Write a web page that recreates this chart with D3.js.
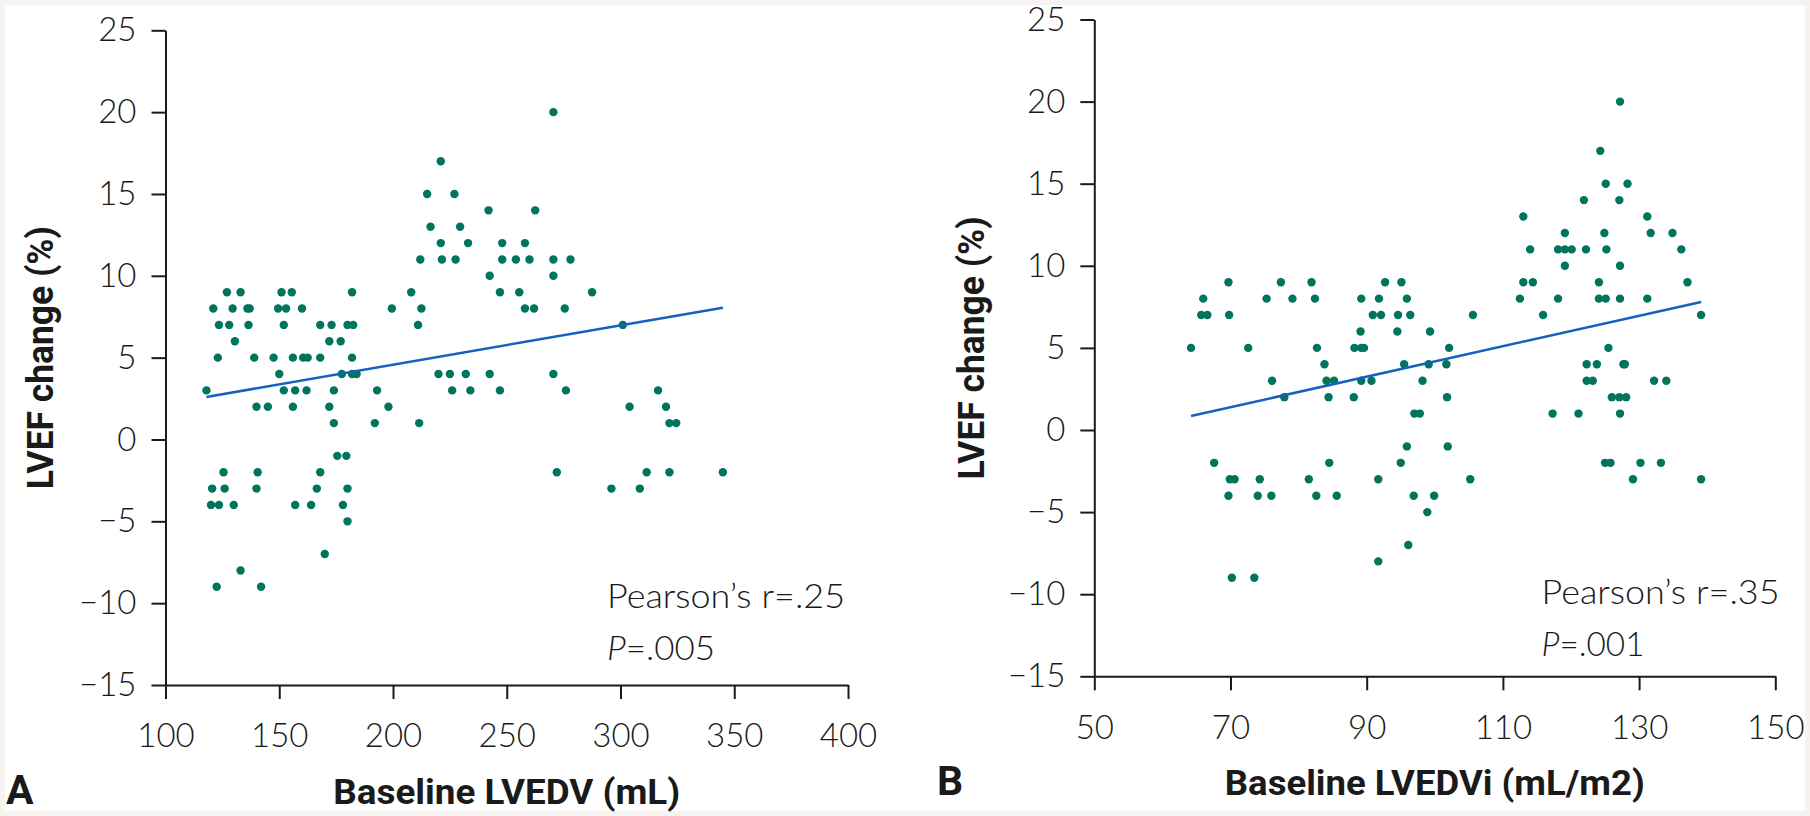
<!DOCTYPE html>
<html><head><meta charset="utf-8">
<script src="https://cdn.jsdelivr.net/npm/d3@7"></script>
<style>
html,body{margin:0;padding:0;background:#f7f3f1;}
svg{display:block;}
.tick text,.note{font-family:Lato,'Open Sans',sans-serif;font-weight:300;fill:#1a1a1a;}
.title{font-family:Roboto,'DejaVu Sans',sans-serif;font-weight:700;fill:#1a1a1a;}
</style></head><body>
<svg id="chart" width="1810" height="816"></svg>
<script>
// ---- Data ----
// Panel A: Baseline LVEDV (mL) vs LVEF change (%)
const aX = [270.5,221,215,227,242,262.5,216.5,229.5,221,233,248,258,
  212,221.5,227.5,248,254,260,270.5,278,242.5,270.5,
  127,133,151,155.5,182,208,247,255.5,287.5,
  121,129.5,136,137,149.5,153,160,199.5,212.5,258,262,275.5,
  123.5,128,136.5,152,168,173,180,182.5,211,301,
  130.5,172,177,
  123,139,147.5,156,160.5,162.5,168,182,
  150,177.5,182,184,220,225,232,242.5,270.5,
  118,152,157,162,174,193,226,234,247,276,316.5,
  140,145,156,172,198,304,320,
  174,192,211.5,321.5,324.5,
  175.5,179.5,
  125.5,140.5,168,272,311.5,321.5,345,
  120.5,126,140,166.5,180,296,308.5,
  120,123.5,130,157,164,178,
  180,170,133,122.5,142];
const aY = [20,17,15,15,14,14,13,13,12,12,12,12,
  11,11,11,11,11,11,11,11,10,10,
  9,9,9,9,9,9,9,9,9,
  8,8,8,8,8,8,8,8,8,8,8,8,
  7,7,7,7,7,7,7,7,7,7,
  6,6,6,
  5,5,5,5,5,5,5,5,
  4,4,4,4,4,4,4,4,4,
  3,3,3,3,3,3,3,3,3,3,3,
  2,2,2,2,2,2,2,
  1,1,1,1,1,
  -1,-1,
  -2,-2,-2,-2,-2,-2,-2,
  -3,-3,-3,-3,-3,-3,-3,
  -4,-4,-4,-4,-4,-4,
  -5,-7,-8,-9,-9];
const fitAX = [118, 345];
const fitAY = [2.6, 8.05];

// Panel B: Baseline LVEDVi (mL/m2) vs LVEF change (%)
const bX = [127.2,124.3,125.1,128.3,121.9,127.1,113.0,131.2,
  119.1,124.9,131.7,134.9,
  114.0,118.1,119.1,120.1,122.2,125.2,136.2,
  119.1,127.2,
  69.7,77.4,81.9,92.7,95.1,113.0,114.4,124.1,137.1,
  66.0,75.3,79.1,82.4,89.2,91.8,95.9,112.5,118.1,124.1,125.1,127.2,131.2,
  65.7,66.6,69.8,90.9,92.1,94.6,96.4,105.6,115.9,139.1,
  89.1,94.5,99.3,
  64.2,72.6,82.7,88.2,89.2,89.6,102.1,125.5,
  83.8,95.5,99.1,101.7,122.3,123.8,127.7,127.9,
  76.1,84.1,85.2,89.2,90.7,98.2,122.3,123.2,132.2,134.0,
  77.9,84.4,88.1,101.8,126.0,127.1,128.1,
  97.0,97.8,117.3,121.1,127.2,
  95.9,101.9,
  67.6,84.5,95.0,125.0,125.8,130.2,133.2,
  69.9,70.6,74.3,81.5,91.7,105.2,129.1,139.1,
  69.7,74.0,76.0,82.6,85.6,96.9,99.9,
  98.9,96.1,91.7,70.2,73.5];
const bY = [20,17,15,15,14,14,13,13,
  12,12,12,12,
  11,11,11,11,11,11,11,
  10,10,
  9,9,9,9,9,9,9,9,9,
  8,8,8,8,8,8,8,8,8,8,8,8,8,
  7,7,7,7,7,7,7,7,7,7,
  6,6,6,
  5,5,5,5,5,5,5,5,
  4,4,4,4,4,4,4,4,
  3,3,3,3,3,3,3,3,3,3,
  2,2,2,2,2,2,2,
  1,1,1,1,1,
  -1,-1,
  -2,-2,-2,-2,-2,-2,-2,
  -3,-3,-3,-3,-3,-3,-3,-3,
  -4,-4,-4,-4,-4,-4,-4,
  -5,-7,-8,-9,-9];
const fitBX = [64.2, 139.1];
const fitBY = [0.85, 7.8];

const yTicks = [-15,-10,-5,0,5,10,15,20,25];
const xTicksA = [100,150,200,250,300,350,400];
const xTicksB = [50,70,90,110,130,150];

// ---- Drawing ----
const svg = d3.select("#chart");
svg.append("rect").attr("x",5).attr("y",5).attr("width",1800).attr("height",806).attr("fill","#ffffff");

const dotColor = "#00745c", lineColor = "#1560c0", ink = "#1a1a1a";
const fmt = d => d < 0 ? "\u2212" + Math.abs(d) : String(d);

function panel(o){
  const x = d3.scaleLinear().domain(o.xDomain).range(o.xRange);
  const y = d3.scaleLinear().domain([-15,25]).range(o.yRange);
  const g = svg.append("g");

  const ya = g.append("g").attr("transform",`translate(${o.xRange[0]},0)`)
    .call(d3.axisLeft(y).tickValues(yTicks).tickFormat(fmt).tickSize(14).tickSizeOuter(0).tickPadding(15));
  const xa = g.append("g").attr("transform",`translate(0,${o.yRange[0]})`)
    .call(d3.axisBottom(x).tickValues(o.xTicks).tickFormat(fmt).tickSize(14).tickSizeOuter(0).tickPadding(25));
  [ya,xa].forEach(a=>{
    a.selectAll("path,line").attr("stroke",ink).attr("stroke-width",2);
    a.selectAll("text").attr("font-size",33).attr("fill",ink);
  });

  g.append("g").selectAll("circle").data(o.xs.map((v,i)=>[v,o.ys[i]])).join("circle")
    .attr("cx",d=>x(d[0])).attr("cy",d=>y(d[1])).attr("r",4.2).attr("fill",dotColor);

  g.append("path").datum(o.fx.map((v,i)=>[v,o.fy[i]]))
    .attr("d",d3.line().x(d=>x(d[0])).y(d=>y(d[1])))
    .attr("stroke",lineColor).attr("stroke-width",2.5).attr("fill","none");

  // annotation
  g.append("text").attr("class","note").attr("x",o.noteX).attr("y",o.noteY).attr("font-size",34)
    .attr("textLength",238).attr("lengthAdjust","spacingAndGlyphs").text(o.r);
  const t2 = g.append("text").attr("class","note").attr("x",o.noteX).attr("y",o.noteY+52).attr("font-size",34)
    .attr("textLength",o.pLen).attr("lengthAdjust","spacingAndGlyphs");
  t2.append("tspan").attr("font-style","italic").text("P");
  t2.append("tspan").text(o.p);

  // axis titles
  const cx = (o.xRange[0]+o.xRange[1])/2;
  g.append("text").attr("class","title").attr("x",cx).attr("y",o.yRange[0]+119)
    .attr("text-anchor","middle").attr("font-size",35)
    .attr("textLength",o.xTitleLen).attr("lengthAdjust","spacingAndGlyphs").text(o.xTitle);
  const cy = (o.yRange[0]+o.yRange[1])/2;
  g.append("text").attr("class","title")
    .attr("transform",`translate(${o.yTitleX},${cy}) rotate(-90)`)
    .attr("text-anchor","middle").attr("font-size",36)
    .attr("textLength",263).attr("lengthAdjust","spacingAndGlyphs").text("LVEF change (%)");
  g.append("text").attr("class","title").attr("x",o.letterX).attr("y",o.yRange[0]+119)
    .attr("font-size",41).attr("font-weight",500).text(o.letter);
}

panel({xDomain:[100,400], xRange:[165.5,848], yRange:[685,30.3], xTicks:xTicksA,
  xs:aX, ys:aY, fx:fitAX, fy:fitAY, r:"Pearson\u2019s r=.25", p:"=.005", pLen:108,
  noteX:607, noteY:608, xTitle:"Baseline LVEDV (mL)", xTitleLen:347, yTitleX:53, letter:"A", letterX:6});
panel({xDomain:[50,150], xRange:[1094.3,1775.3], yRange:[676.3,19.5], xTicks:xTicksB,
  xs:bX, ys:bY, fx:fitBX, fy:fitBY, r:"Pearson\u2019s r=.35", p:"=.001", pLen:103,
  noteX:1541.5, noteY:604, xTitle:"Baseline LVEDVi (mL/m2)", xTitleLen:420, yTitleX:984, letter:"B", letterX:937});
</script>
</body></html>
